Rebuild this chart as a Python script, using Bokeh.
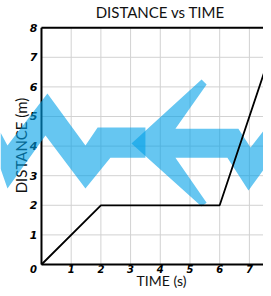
import math
from bokeh.plotting import figure
from bokeh.models import Range1d
from bokeh.embed import file_html
from bokeh.resources import INLINE
from bokeh.core.properties import value

# chart data
TIME = [0, 2, 6, 8]
DISTANCE = [0, 2, 2, 8]
X_TICKS = [1, 2, 3, 4, 5, 6, 7]
X_LABELS = ["1", "2", "3", "4", "5", "6", "7"]
Y_TICKS = [1, 2, 3, 4, 5, 6, 7, 8]
Y_LABELS = ["1", "2", "3", "4", "5", "6", "7", "8"]
GRID_TICKS = [0, 1, 2, 3, 4, 5, 6, 7, 8]
X_MAX = 8
Y_MAX = 8

# decorative blue zig-zag arrow (two overlapping shapes, data units)
ARROW_TAIL_X = [-1.38, -1.145, 0.20, 1.48, 1.89, 3.50, 3.50, 2.32, 1.48, 0.135, -1.145, -1.38]
ARROW_TAIL_Y = [4.46, 4.02, 5.78, 4.02, 4.63, 4.63, 3.61, 3.61, 2.57, 4.36, 2.57, 3.24]
ARROW_HEAD_X = [3.03, 5.39, 5.56, 4.51, 6.63, 7.04, 8.05, 8.05, 6.97, 6.26, 4.51, 5.56, 5.39]
ARROW_HEAD_Y = [4.09, 6.25, 6.08, 4.59, 4.59, 3.95, 5.27, 3.99, 2.50, 3.61, 3.61, 2.09, 1.96]

# the frame covers the whole canvas so the decoration can reach the left edge
p = figure(width=263, height=288,
           x_range=Range1d(-1.380, 7.475), y_range=Range1d(-0.811, 8.919),
           output_backend="svg", toolbar_location=None,
           x_axis_location=None, y_axis_location=None,
           min_border=0)
p.outline_line_color = None
p.background_fill_color = "white"
p.border_fill_color = "white"
p.xgrid.visible = False
p.ygrid.visible = False

GRID_COLOR = "#d2d2d2"
# grid
p.segment(x0=GRID_TICKS, y0=[0] * len(GRID_TICKS), x1=GRID_TICKS, y1=[Y_MAX] * len(GRID_TICKS),
          line_color=GRID_COLOR, line_width=1)
p.segment(x0=[0] * len(GRID_TICKS), y0=GRID_TICKS, x1=[X_MAX] * len(GRID_TICKS), y1=GRID_TICKS,
          line_color=GRID_COLOR, line_width=1)

TICK_FONT = value("DejaVu Sans")
# tick labels
p.text(x=X_TICKS, y=[0] * len(X_TICKS), text=X_LABELS, y_offset=1,
       text_font=TICK_FONT, text_font_style="bold italic", text_font_size="10px",
       text_color="black", text_align="center", text_baseline="top")
p.text(x=[0] * len(Y_TICKS), y=Y_TICKS, text=Y_LABELS, x_offset=-4,
       text_font=TICK_FONT, text_font_style="bold italic", text_font_size="11px",
       text_color="black", text_align="right", text_baseline="middle")
p.text(x=[0], y=[0], text=["0"], x_offset=-8, y_offset=1,
       text_font=TICK_FONT, text_font_style="bold italic", text_font_size="10px",
       text_color="black", text_align="center", text_baseline="top")

LABEL_FONT = value("Lato")
# axis labels and title
p.text(x=[X_MAX / 2 + 0.04], y=[0], text=["TIME (s)"], y_offset=16,
       text_font=LABEL_FONT, text_font_size="14px", text_color="#111111",
       text_align="center", text_baseline="middle")
p.text(x=[0], y=[Y_MAX / 2 + 0.02], text=["DISTANCE (m)"], x_offset=-20,
       angle=math.pi / 2,
       text_font=LABEL_FONT, text_font_size="15px", text_color="#111111",
       text_align="center", text_baseline="middle")
p.text(x=[X_MAX / 2], y=[Y_MAX], text=["DISTANCE vs TIME"], y_offset=-16,
       text_font=LABEL_FONT, text_font_size="15px", text_color="#111111",
       text_align="center", text_baseline="middle")

# axes frame lines
p.line(x=[0, 0], y=[0, Y_MAX], line_color="black", line_width=2)
p.line(x=[0, X_MAX], y=[0, 0], line_color="black", line_width=2)
p.line(x=[0, X_MAX], y=[Y_MAX, Y_MAX], line_color="black", line_width=2)

# decoration
p.patch(ARROW_TAIL_X, ARROW_TAIL_Y, fill_color="#00A0E8", fill_alpha=0.6, line_color=None)
p.patch(ARROW_HEAD_X, ARROW_HEAD_Y, fill_color="#00A0E8", fill_alpha=0.6, line_color=None)

# data
p.line(TIME, DISTANCE, line_color="black", line_width=1.8)

open("out.html", "w").write(file_html(p, INLINE))
